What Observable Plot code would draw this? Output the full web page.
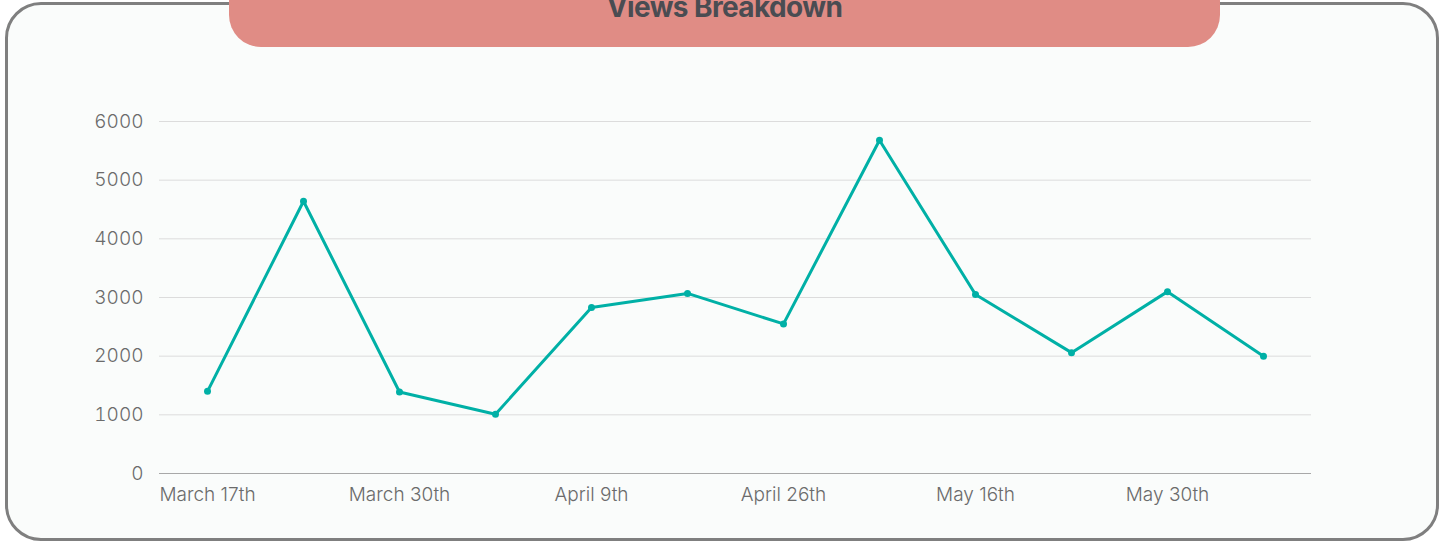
<!DOCTYPE html>
<html>
<head>
<meta charset="utf-8">
<script src="https://cdn.jsdelivr.net/npm/d3@7"></script>
<script src="https://cdn.jsdelivr.net/npm/@observablehq/plot@0.6"></script>
<style>
  html, body { margin: 0; padding: 0; background: #ffffff; }
  body { width: 1442px; height: 541px; overflow: hidden; position: relative; font-family: Inter, "Liberation Sans", sans-serif; }
  #frame { position: absolute; left: 5px; top: 2px; width: 1428px; height: 533px; border: 3px solid #7f7f7f; border-radius: 36px; background: #fafcfb; }
  #banner { position: absolute; left: 229px; top: -30px; width: 991px; height: 77px; background: #e08c85; border-radius: 32px; }
  #title { position: absolute; left: 229px; width: 991px; top: -8px; text-align: center; font-family: Inter, sans-serif; font-weight: 700; font-size: 28px; line-height: 30px; color: #4a4c52; letter-spacing: -0.6px; }
  #chart { position: absolute; left: 0; top: 0; }
  #chart svg text { font-weight: 300; }
</style>
</head>
<body>
<div id="frame"></div>
<div id="banner"></div>
<div id="title">Views Breakdown</div>
<div id="chart"></div>
<script>
const tickLabels = ["March 17th", "March 30th", "April 9th", "April 26th", "May 16th", "May 30th"];
const views = [1400, 4640, 1390, 1010, 2830, 3070, 2550, 5680, 3050, 2060, 3100, 2000];
const yTicks = [0, 1000, 2000, 3000, 4000, 5000, 6000];

const data = views.map((v, i) => ({i, v}));
const tickIdx = tickLabels.map((_, k) => k * 2);

const chart = Plot.plot({
  width: 1442,
  height: 541,
  marginLeft: 159,
  marginRight: 131,
  marginTop: 121,
  marginBottom: 68,
  style: {background: "transparent", fontFamily: "Inter, sans-serif", fontSize: "19px", color: "#6b6b6b"},
  x: {type: "point", domain: d3.range(views.length), padding: 0.5, axis: null},
  y: {domain: [0, 6000], axis: null},
  marks: [
    Plot.gridY(yTicks.filter(d => d > 0), {stroke: "#dcdcdc", strokeOpacity: 1, strokeWidth: 1}),
    Plot.ruleY([0], {stroke: "#a8a8a8", strokeWidth: 1}),
    Plot.axisY(yTicks, {tickSize: 0, tickPadding: 16, label: null, tickFormat: d => String(d), fill: "#6b6b6b", fontSize: 19, fontWeight: 300, letterSpacing: "-0.6px"}),
    Plot.axisX(tickIdx, {tickSize: 0, tickPadding: 14, label: null, tickFormat: d => tickLabels[d / 2], fill: "#6b6b6b", fontSize: 19, fontWeight: 300, letterSpacing: "-0.7px"}),
    Plot.line(data, {x: "i", y: "v", stroke: "#00b0a6", strokeWidth: 3}),
    Plot.dot(data, {x: "i", y: "v", fill: "#00b0a6", r: 3.5})
  ]
});
document.getElementById("chart").append(chart);
</script>
</body>
</html>
